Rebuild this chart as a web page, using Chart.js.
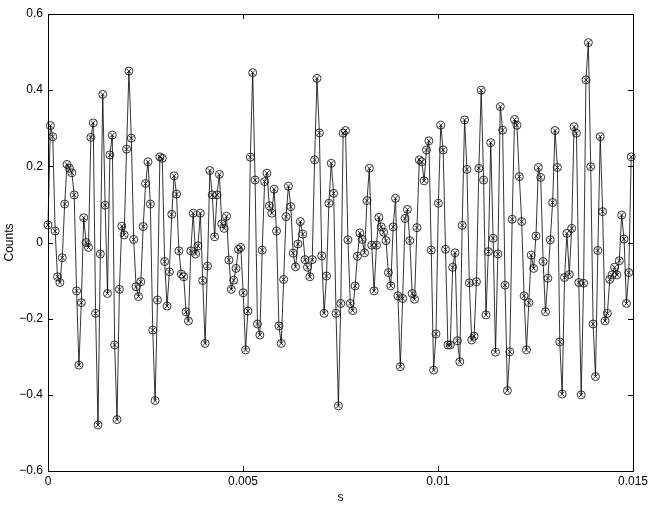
<!DOCTYPE html>
<html><head><meta charset="utf-8">
<script src="https://cdn.jsdelivr.net/npm/chart.js@4/dist/chart.umd.min.js"></script>
<style>html,body{margin:0;padding:0;background:#fff;}#wrap{width:654px;height:508px;position:relative;}</style>
</head><body><div id="wrap"><canvas id="c" width="654" height="508"></canvas></div>
<script>
const sampleRate = 16384;
const counts = [
0.046, 0.307, 0.278, 0.03, -0.09, -0.105, -0.04, 0.101, 0.205, 0.195,
0.183, 0.125, -0.127, -0.322, -0.158, 0.065, 0.0, -0.013, 0.276, 0.314,
-0.186, -0.479, -0.03, 0.389, 0.098, -0.134, 0.230, 0.282, -0.269, -0.465,
-0.123, 0.043, 0.020, 0.245, 0.450, 0.274, 0.008, -0.116, -0.142, -0.103,
0.042, 0.155, 0.212, 0.101, -0.230, -0.415, -0.151, 0.225, 0.221, -0.050,
-0.167, -0.077, 0.074, 0.175, 0.127, -0.022, -0.083, -0.090, -0.182, -0.206,
-0.022, 0.077, -0.030, -0.009, 0.077, -0.100, -0.265, -0.062, 0.189, 0.125,
0.015, 0.125, 0.179, 0.049, 0.037, 0.069, -0.046, -0.123, -0.099, -0.068,
-0.018, -0.013, -0.132, -0.282, -0.180, 0.224, 0.446, 0.164, -0.214, -0.243,
-0.020, 0.160, 0.182, 0.096, 0.077, 0.140, 0.030, -0.219, -0.265, -0.097,
0.068, 0.148, 0.094, -0.028, -0.064, -0.004, 0.055, 0.022, -0.045, -0.065,
-0.090, -0.045, 0.217, 0.431, 0.288, -0.035, -0.186, -0.088, 0.103, 0.208,
0.129, -0.186, -0.429, -0.160, 0.287, 0.294, 0.007, -0.160, -0.179, -0.114,
-0.036, 0.025, 0.008, -0.027, 0.110, 0.195, -0.007, -0.127, -0.007, 0.066,
0.041, 0.027, 0.005, -0.079, -0.114, 0.041, 0.116, -0.140, -0.326, -0.147,
0.063, 0.087, 0.005, -0.134, -0.149, 0.039, 0.217, 0.212, 0.162, 0.243,
0.267, -0.020, -0.335, -0.240, 0.103, 0.308, 0.243, -0.018, -0.269, -0.269,
-0.065, -0.027, -0.258, -0.313, 0.045, 0.322, 0.192, -0.106, -0.256, -0.246,
-0.103, 0.195, 0.400, 0.164, -0.190, -0.024, 0.262, 0.011, -0.288, -0.030,
0.357, 0.295, -0.112, -0.389, -0.287, 0.061, 0.323, 0.308, 0.173, 0.055,
-0.140, -0.282, -0.158, -0.033, -0.068, 0.017, 0.197, 0.171, -0.050, -0.182,
-0.094, 0.007, 0.105, 0.294, 0.197, -0.261, -0.398, -0.092, 0.024, -0.084,
0.037, 0.304, 0.287, -0.105, -0.400, -0.107, 0.427, 0.525, 0.199, -0.214,
-0.352, -0.021, 0.278, 0.081, -0.206, -0.186, -0.097, -0.085, -0.065, -0.085,
-0.048, 0.072, 0.009, -0.160, -0.079, 0.225
];
const xTicks = [0, 0.005, 0.01, 0.015];
const xTickLabels = ["0", "0.005", "0.01", "0.015"];
const yTicks = [-0.6, -0.4, -0.2, 0, 0.2, 0.4, 0.6];
const yTickLabels = ["\u22120.6", "\u22120.4", "\u22120.2", "0", "0.2", "0.4", "0.6"];
const xTitle = "s";
const yTitle = "Counts";

const points = counts.map((v, i) => ({x: i / sampleRate, y: v}));
const FONT = {family: "'Liberation Sans', Arial, sans-serif", size: 12};

const framePlugin = {
  id: 'frame',
  afterDatasetsDraw(chart) {
    const {ctx, chartArea: a, scales: {x, y}} = chart;
    ctx.save();
    ctx.strokeStyle = '#000';
    ctx.lineWidth = 1;
    ctx.beginPath();
    ctx.rect(Math.round(a.left) + 0.5, Math.round(a.top) + 0.5, Math.round(a.right - a.left), Math.round(a.bottom - a.top));
    const L = 5;
    x.ticks.forEach(t => {
      const px = Math.round(x.getPixelForValue(t.value)) + 0.5;
      ctx.moveTo(px, a.bottom); ctx.lineTo(px, a.bottom - L);
      ctx.moveTo(px, a.top); ctx.lineTo(px, a.top + L);
    });
    y.ticks.forEach(t => {
      const py = Math.round(y.getPixelForValue(t.value)) + 0.5;
      ctx.moveTo(a.left, py); ctx.lineTo(a.left + L, py);
      ctx.moveTo(a.right, py); ctx.lineTo(a.right - L, py);
    });
    ctx.stroke();
    ctx.restore();
  }
};

new Chart(document.getElementById('c'), {
  type: 'line',
  data: {
    datasets: [
      {data: points, borderColor: '#000', borderWidth: 0.8, pointStyle: 'circle', pointRadius: 4,
       pointBorderWidth: 0.8, pointBorderColor: '#000', pointBackgroundColor: 'rgba(0,0,0,0)', tension: 0, clip: false},
      {data: points, showLine: false, borderColor: '#000', pointStyle: 'crossRot', pointRadius: 3,
       pointBorderWidth: 0.8, pointBorderColor: '#000', pointBackgroundColor: 'rgba(0,0,0,0)', clip: false}
    ]
  },
  options: {
    responsive: false, animation: false, devicePixelRatio: 1, events: [],
    layout: {padding: {top: 14, right: 21, left: 0, bottom: 0}},
    plugins: {legend: {display: false}, tooltip: {enabled: false}},
    scales: {
      x: {
        type: 'linear', min: 0, max: 0.015,
        afterBuildTicks: s => { s.ticks = xTicks.map(v => ({value: v})); },
        afterFit: s => { s.height = 37; },
        grid: {display: false, drawTicks: false}, border: {display: false},
        ticks: {color: '#000', font: FONT, padding: 3, maxRotation: 0,
          callback: v => { const i = xTicks.findIndex(t => Math.abs(t - v) < 1e-9); return i >= 0 ? xTickLabels[i] : ''; }},
        title: {display: true, text: xTitle, color: '#000', font: FONT, padding: {top: 0, bottom: 3}}
      },
      y: {
        type: 'linear', min: -0.6, max: 0.6,
        afterBuildTicks: s => { s.ticks = yTicks.map(v => ({value: v})); },
        afterFit: s => { s.width = 48; },
        grid: {display: false, drawTicks: false}, border: {display: false},
        ticks: {color: '#000', font: FONT, padding: 5,
          callback: v => { const i = yTicks.findIndex(t => Math.abs(t - v) < 1e-9); return i >= 0 ? yTickLabels[i] : ''; }},
        title: {display: true, text: yTitle, color: '#000', font: FONT, padding: {top: 2, bottom: 0}}
      }
    }
  },
  plugins: [framePlugin]
});
</script></body></html>
